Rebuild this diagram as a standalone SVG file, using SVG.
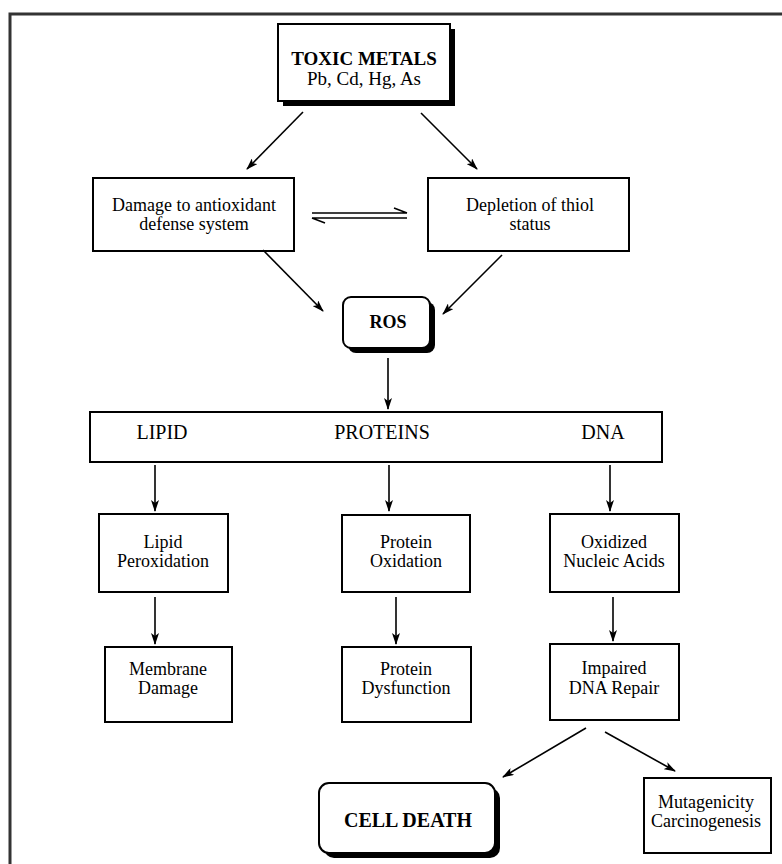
<svg xmlns="http://www.w3.org/2000/svg" width="782" height="864" viewBox="0 0 782 864">
<defs>
<marker id="ah" viewBox="0 0 12 8" refX="11" refY="4" markerWidth="12" markerHeight="8" markerUnits="userSpaceOnUse" orient="auto">
<path d="M0,0 L12,4 L0,8 L3,4 Z" fill="#000"/>
</marker>
</defs>
<style>
.box{fill:#fff;stroke:#000;stroke-width:2}
.sh{fill:#000}
.t{font-family:"Liberation Serif","Times New Roman",serif;font-size:18px;fill:#000;text-anchor:middle}
.b{font-weight:bold;font-size:19px}
.c{stroke:#000;stroke-width:1.6;fill:none}
.a{marker-end:url(#ah)}
</style>
<rect width="782" height="864" fill="#fff"/>
<rect x="10" y="14" width="800" height="900" fill="none" stroke="#333" stroke-width="3"/>

<g id="toxic">
<rect class="sh" x="283" y="29" width="172" height="77"/>
<rect class="box" x="278" y="24" width="172" height="77"/>
<text class="t b" x="364" y="65">TOXIC METALS</text>
<text class="t" x="364" y="85" style="font-size:19px">Pb, Cd, Hg, As</text>
</g>

<g id="damage">
<rect class="box" x="93" y="178" width="201" height="73"/>
<text class="t" x="194" y="211">Damage to antioxidant</text>
<text class="t" x="194" y="230">defense system</text>
</g>

<g id="depletion">
<rect class="box" x="428" y="178" width="201" height="73"/>
<text class="t" x="530" y="211">Depletion of thiol</text>
<text class="t" x="530" y="230">status</text>
</g>

<g id="ros">
<rect class="sh" x="348" y="302" width="87" height="51" rx="8"/>
<rect class="box" x="343" y="297" width="87" height="51" rx="8"/>
<text class="t b" x="388" y="328" style="font-size:18px">ROS</text>
</g>

<g id="targets">
<rect class="box" x="90" y="412" width="572" height="50"/>
<text class="t" x="162" y="439" style="font-size:20px">LIPID</text>
<text class="t" x="382" y="439" style="font-size:20px">PROTEINS</text>
<text class="t" x="603" y="439" style="font-size:20px">DNA</text>
</g>

<g id="lipidperox">
<rect class="box" x="99" y="514" width="129" height="78"/>
<text class="t" x="163" y="548">Lipid</text>
<text class="t" x="163" y="567">Peroxidation</text>
</g>

<g id="proteinox">
<rect class="box" x="342" y="515" width="128" height="77"/>
<text class="t" x="406" y="548">Protein</text>
<text class="t" x="406" y="567">Oxidation</text>
</g>

<g id="oxidized">
<rect class="box" x="550" y="514" width="129" height="78"/>
<text class="t" x="614" y="548">Oxidized</text>
<text class="t" x="614" y="567">Nucleic Acids</text>
</g>

<g id="membrane">
<rect class="box" x="105" y="647" width="127" height="75"/>
<text class="t" x="168" y="675">Membrane</text>
<text class="t" x="168" y="694">Damage</text>
</g>

<g id="dysfunction">
<rect class="box" x="342" y="647" width="129" height="75"/>
<text class="t" x="406" y="675">Protein</text>
<text class="t" x="406" y="694">Dysfunction</text>
</g>

<g id="repair">
<rect class="box" x="550" y="644" width="129" height="76"/>
<text class="t" x="614" y="674">Impaired</text>
<text class="t" x="614" y="694">DNA Repair</text>
</g>

<g id="celldeath">
<rect class="sh" x="324" y="788" width="176" height="70" rx="10"/>
<rect class="box" x="319" y="783" width="176" height="70" rx="10"/>
<text class="t b" x="408" y="827" style="font-size:20px">CELL DEATH</text>
</g>

<g id="mutagenicity">
<rect class="box" x="644" y="778" width="127" height="75"/>
<text class="t" x="706" y="808">Mutagenicity</text>
<text class="t" x="706" y="827">Carcinogenesis</text>
</g>

<g id="connectors">
<line class="c a" x1="303" y1="112" x2="247" y2="169"/>
<line class="c a" x1="421" y1="113" x2="477" y2="169"/>
<path class="c" d="M312,213 H407 M407,213 L394,208"/>
<path class="c" d="M407,218 H312 M312,218 L325,223"/>
<line class="c a" x1="263" y1="250" x2="323" y2="311"/>
<line class="c a" x1="502" y1="255" x2="443" y2="314"/>
<line class="c a" x1="388" y1="358" x2="388" y2="409"/>
<line class="c a" x1="155" y1="465" x2="155" y2="511"/>
<line class="c a" x1="389" y1="465" x2="389" y2="511"/>
<line class="c a" x1="610" y1="465" x2="610" y2="511"/>
<line class="c a" x1="155" y1="597" x2="155" y2="644"/>
<line class="c a" x1="396" y1="597" x2="396" y2="644"/>
<line class="c a" x1="613" y1="597" x2="613" y2="641"/>
<line class="c a" x1="586" y1="728" x2="503" y2="777"/>
<line class="c a" x1="605" y1="732" x2="675" y2="771"/>
</g>
</svg>
